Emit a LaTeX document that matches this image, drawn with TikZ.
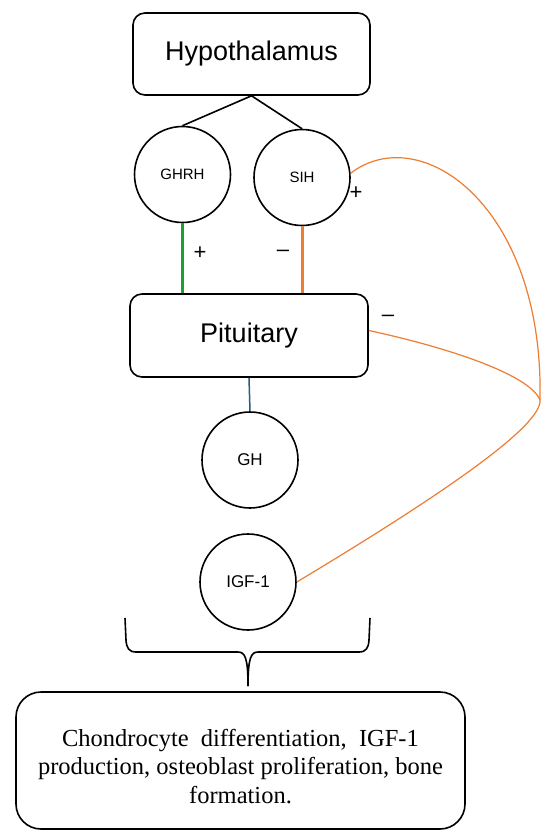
\documentclass[tikz,border=0pt]{standalone}
\usepackage{fontspec}
\setmainfont{Liberation Sans}
\newfontfamily\serifbox{Liberation Serif}
\definecolor{gline}{HTML}{1E9E2E}
\definecolor{oline}{HTML}{ED7D31}
\definecolor{bline}{HTML}{1F5F7F}
\begin{document}
\begin{tikzpicture}[x=1pt,y=-1pt,
  bigbox/.style={draw, line width=1.6pt, rounded corners=12pt, minimum width=237pt, minimum height=82pt, inner sep=0pt, font=\fontsize{27}{32}\selectfont},
  circ/.style={draw, circle, line width=1.6pt, minimum size=96pt, inner sep=0pt},
  outbox/.style={draw, line width=1.6pt, rounded corners=25pt, minimum width=449pt, minimum height=137pt, inner sep=0pt, align=center, font=\serifbox\fontsize{24.5}{28.5}\selectfont},
  sign/.style={inner sep=0pt, font=\fontsize{22}{24}\selectfont},
  thinblack/.style={draw, line width=1.6pt},
  fb/.style={draw=oline, line width=1.2pt}
]
\useasboundingbox (0,0) rectangle (550,840);
\fill[white] (0,0) rectangle (550,840);

\node[bigbox] (hyp) at (251.5,54) {Hypothalamus};
\node[circ, font=\fontsize{15}{18}\selectfont] (ghrh) at (182.5,174.5) {GHRH};
\node[circ, font=\fontsize{15}{18}\selectfont] (sih) at (302,177.5) {SIH};
\node[bigbox, minimum width=238pt, minimum height=83pt] (pit) at (249,335.5) {Pituitary};
\node[circ, font=\fontsize{17}{20}\selectfont] (gh) at (250,460) {GH};
\node[circ, font=\fontsize{17}{20}\selectfont] (igf) at (248,582) {IGF-1};
\node[outbox] (eff) at (240.5,760.5) {\rule{0pt}{29pt}Chondrocyte \ differentiation, \ IGF-1\\production, osteoblast proliferation, bone\\formation.};

\draw[thinblack] (hyp.south) -- (ghrh.north);
\draw[thinblack] (hyp.south) -- (sih.north);
\draw[draw=gline, line width=3pt] (ghrh.south) -- (ghrh.south |- pit.north);
\draw[draw=oline, line width=3pt] (sih.south) -- (sih.south |- pit.north);
\draw[draw=bline, line width=1.5pt] (pit.south) -- (gh.north);

\node[sign] (plusg) at (200,253) {+};
\node[sign] (minuss) at (283,253) {–};
\node[sign] (pluss) at (356,193) {+};
\node[sign] (minusp) at (388,318) {–};

\coordinate (J) at (540,400);
\draw[fb] (sih.5) .. controls (420,120) and (544,205) .. (J);
\draw[fb] ([yshift=5pt]pit.east) .. controls (450,348) and (530,375) .. (J);
\draw[fb] (J) .. controls (542,425) and (450,490) .. (igf.east);

\coordinate (bl) at (125,618);
\coordinate (br) at (370,618);
\coordinate (bt) at (248,686);
\draw[line width=1.6pt] (bl) -- (126,640) .. controls (126.5,648) and (129,652) .. (136,652) -- (238,652) .. controls (245,652) and (248,658) .. (bt);
\draw[line width=1.6pt] (br) -- (369,640) .. controls (368.5,648) and (366,652) .. (359,652) -- (258,652) .. controls (251,652) and (248,658) .. (bt);
\end{tikzpicture}
\end{document}
